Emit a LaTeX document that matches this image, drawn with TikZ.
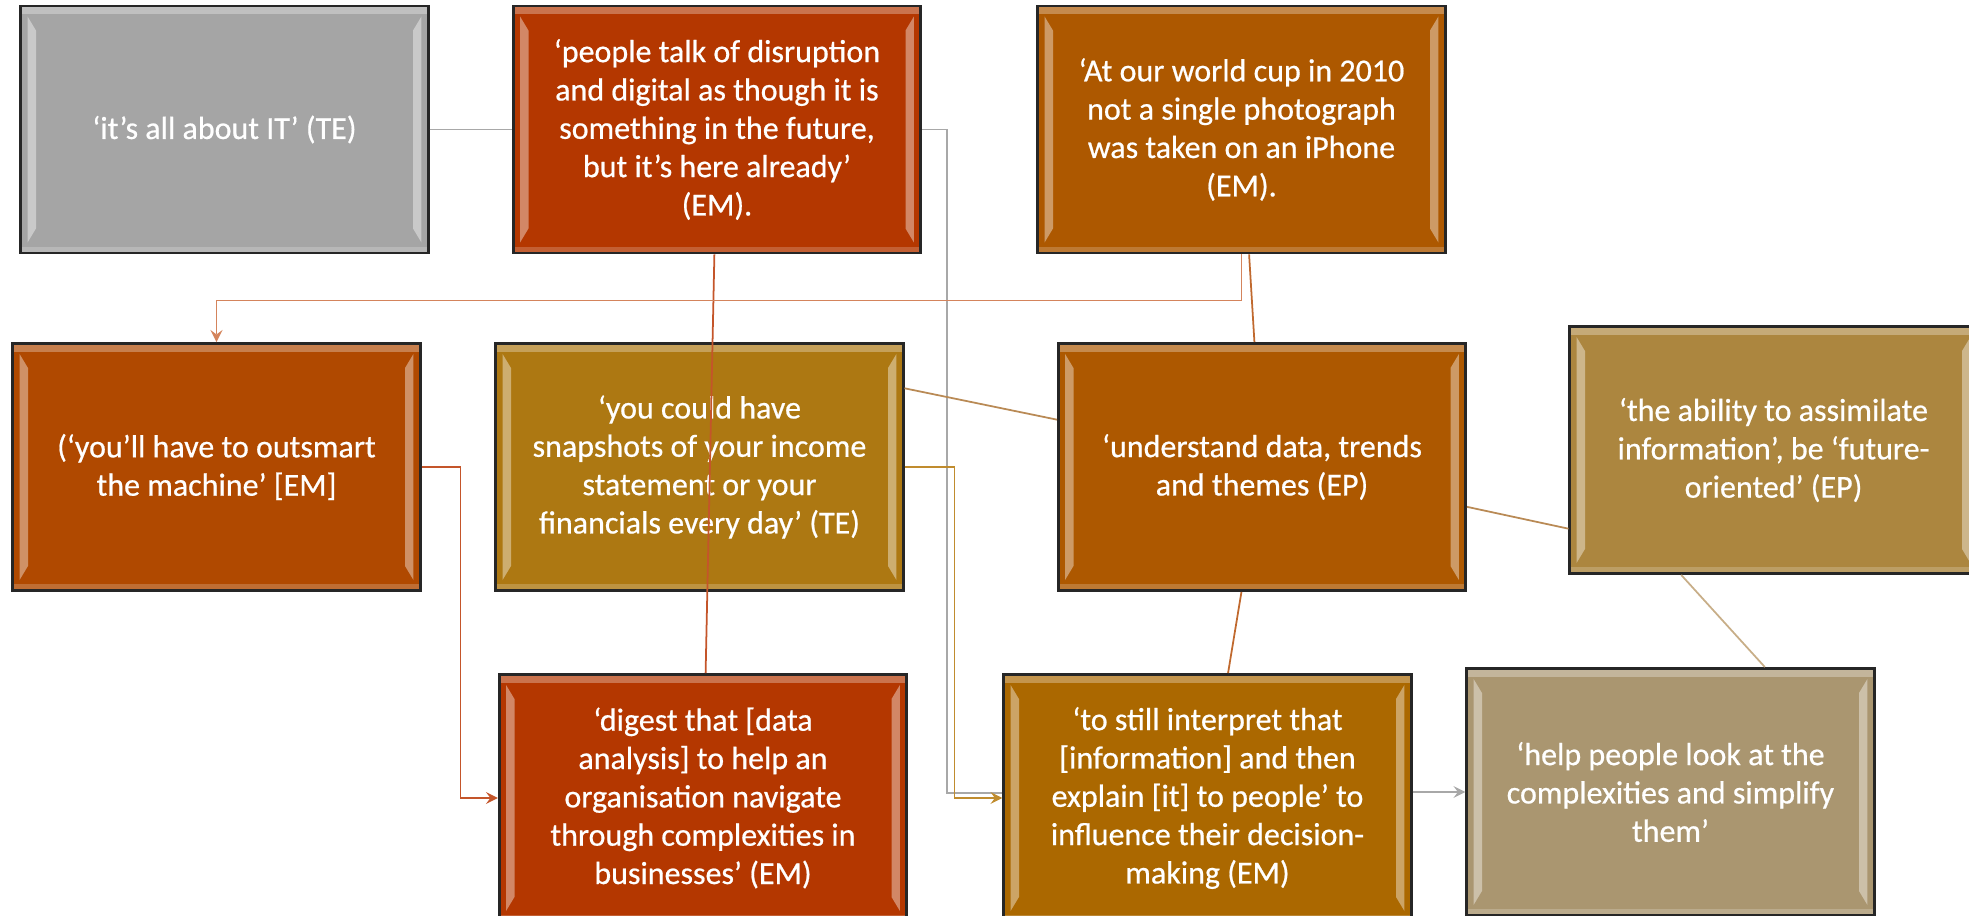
\documentclass[tikz,border=0pt]{standalone}
\usepackage{fontspec}
\setmainfont{Carlito}
\newfontfamily\quotefont[FakeBold=0.6]{Carlito}
\usetikzlibrary{calc}
\definecolor{cGray}{HTML}{A5A5A5}
\definecolor{cRust}{HTML}{B43700}
\definecolor{cBurnt}{HTML}{B04900}
\definecolor{cCopper}{HTML}{AD5800}
\definecolor{cOchre}{HTML}{AD7812}
\definecolor{cAmber}{HTML}{AB6800}
\definecolor{cKhaki}{HTML}{AC863F}
\definecolor{cSand}{HTML}{AA9670}
\definecolor{lGray}{HTML}{A8A8A8}
\definecolor{lRed}{HTML}{C4552A}
\definecolor{lOrange}{HTML}{D4845C}
\definecolor{lCopper}{HTML}{C0692E}
\definecolor{lGold}{HTML}{C08C2E}
\definecolor{lTan}{HTML}{B98A55}
\definecolor{lSand}{HTML}{C8AE88}
\newcommand{\boxbevel}{%
  \fill[white,opacity=.3] (path picture bounding box.north west) rectangle ([yshift=-2.3pt]path picture bounding box.north east);
  \fill[white,opacity=.2] (path picture bounding box.south west) rectangle ([yshift=1.8pt]path picture bounding box.south east);
  \fill[white,opacity=.4] ([xshift=1.9pt,yshift=-3pt]path picture bounding box.north west) -- ([xshift=4.3pt,yshift=-7pt]path picture bounding box.north west)
    -- ([xshift=4.3pt,yshift=7pt]path picture bounding box.south west) -- ([xshift=1.9pt,yshift=3pt]path picture bounding box.south west) -- cycle;
  \fill[white,opacity=.4] ([xshift=-1.9pt,yshift=-3pt]path picture bounding box.north east) -- ([xshift=-4.3pt,yshift=-7pt]path picture bounding box.north east)
    -- ([xshift=-4.3pt,yshift=7pt]path picture bounding box.south east) -- ([xshift=-1.9pt,yshift=3pt]path picture bounding box.south east) -- cycle;
}
\begin{document}
\begin{tikzpicture}[x=0.01cm,y=-0.01cm,>=stealth,
  quote/.style={draw=black!85,line width=0.8pt,fill=#1,text=white,align=center,
    minimum width=4.07cm,minimum height=2.47cm,inner sep=0pt,
    font=\quotefont\fontsize{9.1}{10.9}\selectfont,path picture={\boxbevel}},
  link/.style={line width=0.5pt,draw=#1}]
  \useasboundingbox (0,0) rectangle (1969,916);
  % top row
  \node[quote=cGray] (itall) at (224.5,129.5) {‘it’s all about IT’ (TE)};
  \node[quote=cRust] (disrupt) at (717,129.5) {‘people talk of disruption\\and digital as though it is\\something in the future,\\but it’s here already’\\(EM).};
  \node[quote=cCopper] (worldcup) at (1241.5,129.5) {‘At our world cup in 2010\\not a single photograph\\was taken on an iPhone\\(EM).};
  % middle row
  \node[quote=cBurnt] (outsmart) at (216.5,467) {(‘you’ll have to outsmart\\the machine’ [EM]};
  \node[quote=cOchre] (snapshots) at (699.5,467) {‘you could have\\snapshots of your income\\statement or your\\financials every day’ (TE)};
  \node[quote=cCopper] (understand) at (1262,467) {‘understand data, trends\\and themes (EP)};
  \node[quote=cKhaki] (ability) at (1773.5,450) {‘the ability to assimilate\\information’, be ‘future-\\oriented’ (EP)};
  % bottom row
  \node[quote=cRust] (digest) at (703,798) {‘digest that [data\\analysis] to help an\\organisation navigate\\through complexities in\\businesses’ (EM)};
  \node[quote=cAmber] (interpret) at (1207.5,798) {‘to still interpret that\\{[information]} and then\\explain [it] to people’ to\\influence their decision-\\making (EM)};
  \node[quote=cSand] (simplify) at (1670.5,792) {‘help people look at the\\complexities and simplify\\them’};
  % links
  \draw[link=lGray] (itall) -- (disrupt);
  \draw[link=lGray] (disrupt.east) -- ++(25,0) |- ([yshift=0.05cm]interpret.west);
  \draw[link=lRed] (disrupt) -- (digest);
  \draw[link=lOrange,->] (worldcup.south) -- ++(0,46) -| (outsmart.north);
  \draw[link=lCopper] (worldcup) -- (understand);
  \draw[link=lRed,->] (outsmart.east) -- ++(39,0) |- (digest.west);
  \draw[link=lGold,->] (snapshots.east) -- ++(50,0) |- (interpret.west);
  \draw[link=lTan] (snapshots.21) -- (understand.167);
  \draw[link=lTan] (understand.349) -- (ability.201);
  \draw[link=lCopper] (understand) -- (interpret);
  \draw[link=lSand] ($(ability.south west)!0.275!(ability.south east)$) -- ($(simplify.north west)!0.73!(simplify.north east)$);
  \draw[link=lGray,->] (simplify.west -| interpret.east) -- (simplify.west);
\end{tikzpicture}
\end{document}
